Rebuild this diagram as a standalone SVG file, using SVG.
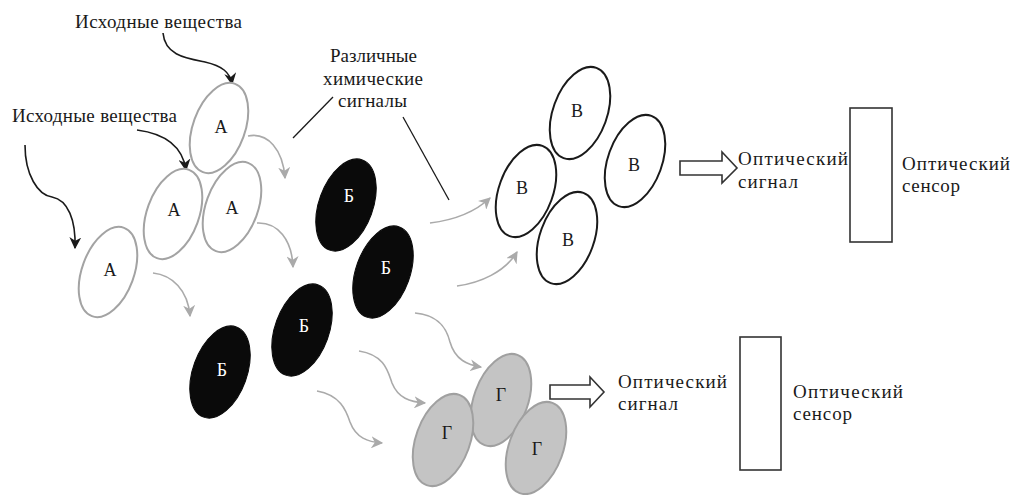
<svg xmlns="http://www.w3.org/2000/svg" width="1013" height="495" viewBox="0 0 1013 495">
<style>
text{font-family:"Liberation Serif","Times New Roman",serif;fill:#1a1a1a}
.t{font-size:19px}
.lbl{font-size:18px;text-anchor:middle}
.a{fill:#fff;stroke:#a3a3a3;stroke-width:2}
.b{fill:#0a0a0a;stroke:#0a0a0a;stroke-width:1}
.v{fill:#fff;stroke:#1a1a1a;stroke-width:2}
.g{fill:#c4c4c4;stroke:#a0a0a0;stroke-width:2}
.wl{fill:#fff}
.ca{fill:none;stroke:#1a1a1a;stroke-width:1.6;marker-end:url(#mk)}
.cg{fill:none;stroke:#aaaaaa;stroke-width:1.6;marker-end:url(#mg)}
.pl{fill:none;stroke:#1a1a1a;stroke-width:1.3}
.box{fill:#fff;stroke:#333;stroke-width:1.6}
</style>
<defs>
<marker id="mk" viewBox="0 0 10 10" refX="9" refY="5" markerWidth="12" markerHeight="12" markerUnits="userSpaceOnUse" orient="auto"><path d="M0,0 L10,5 L0,10 L3,5 Z" fill="#1a1a1a"/></marker>
<marker id="mg" viewBox="0 0 10 10" refX="9" refY="5" markerWidth="12" markerHeight="12" markerUnits="userSpaceOnUse" orient="auto"><path d="M0,0 L10,5 L0,10 L3,5 Z" fill="#aaaaaa"/></marker>
</defs>
<rect width="1013" height="495" fill="#fff"/>

<g id="labels">
<text class="t" x="75" y="28" textLength="167" lengthAdjust="spacing">Исходные вещества</text>
<text class="t" x="12" y="122" textLength="165" lengthAdjust="spacing">Исходные вещества</text>
<text class="t" x="330" y="62" textLength="87" lengthAdjust="spacing">Различные</text>
<text class="t" x="323" y="85" textLength="100" lengthAdjust="spacing">химические</text>
<text class="t" x="338" y="107" textLength="69" lengthAdjust="spacing">сигналы</text>
</g>

<g id="connectors">
<path class="ca" d="M163,33 C165,55 185,58 205,62 C222,66 230,72 232,84"/>
<path class="ca" d="M137,130 C160,133 182,142 186,170"/>
<path class="ca" d="M25,145 C25,175 38,195 52,197 C68,200 76,220 75,248"/>
<path class="cg" d="M248,136 C268,132 283,150 285,178"/>
<path class="cg" d="M257,223 C278,222 292,240 293,267"/>
<path class="cg" d="M153,273 C172,275 188,290 190,316"/>
<path class="cg" d="M430,223 C455,220 475,212 490,198"/>
<path class="cg" d="M457,286 C480,283 505,272 517,252"/>
<path class="cg" d="M415,313 C440,315 447,330 450,342 C455,360 468,365 481,367"/>
<path class="cg" d="M359,351 C385,355 388,372 392,383 C398,398 410,402 425,403"/>
<path class="cg" d="M317,391 C340,395 346,410 350,422 C356,438 368,442 382,443"/>
<line class="pl" x1="333" y1="97" x2="293" y2="138"/>
<line class="pl" x1="403" y1="117" x2="449" y2="200"/>
<path class="box" d="M680,161 H722 V152 L737,168 L722,183 V175 H680 Z"/>
<path class="box" d="M550,385 H590 V377 L604,392 L590,407 V399 H550 Z"/>
</g>

<g id="node-a1"><ellipse class="a" cx="219" cy="128" rx="26" ry="47" transform="rotate(20 219 128)"/><text class="lbl" x="221" y="133">А</text></g>
<g id="node-a2"><ellipse class="a" cx="173" cy="214" rx="26" ry="47" transform="rotate(20 173 214)"/><text class="lbl" x="174" y="216">А</text></g>
<g id="node-a3"><ellipse class="a" cx="232" cy="207" rx="26" ry="47" transform="rotate(20 232 207)"/><text class="lbl" x="232" y="214">А</text></g>
<g id="node-a4"><ellipse class="a" cx="108" cy="272" rx="26" ry="47" transform="rotate(20 108 272)"/><text class="lbl" x="110" y="276">А</text></g>

<g id="node-b1"><ellipse class="b" cx="346" cy="205" rx="27" ry="48" transform="rotate(20 346 205)"/><text class="lbl wl" x="349" y="202">Б</text></g>
<g id="node-b2"><ellipse class="b" cx="383" cy="272" rx="27" ry="48" transform="rotate(20 383 272)"/><text class="lbl wl" x="386" y="274">Б</text></g>
<g id="node-b3"><ellipse class="b" cx="302" cy="330" rx="27" ry="48" transform="rotate(20 302 330)"/><text class="lbl wl" x="304" y="332">Б</text></g>
<g id="node-b4"><ellipse class="b" cx="220" cy="372" rx="27" ry="48" transform="rotate(20 220 372)"/><text class="lbl wl" x="222" y="376">Б</text></g>

<g id="node-v1"><ellipse class="v" cx="580" cy="113" rx="27" ry="48" transform="rotate(20 580 113)"/><text class="lbl" x="577" y="117">В</text></g>
<g id="node-v2"><ellipse class="v" cx="635" cy="161" rx="27" ry="48" transform="rotate(20 635 161)"/><text class="lbl" x="634" y="171">В</text></g>
<g id="node-v3"><ellipse class="v" cx="526" cy="191" rx="27" ry="48" transform="rotate(20 526 191)"/><text class="lbl" x="522" y="194">В</text></g>
<g id="node-v4"><ellipse class="v" cx="567" cy="238" rx="27" ry="48" transform="rotate(20 567 238)"/><text class="lbl" x="568" y="246">В</text></g>

<g id="node-g1"><ellipse class="g" cx="501" cy="400" rx="27" ry="48" transform="rotate(20 501 400)"/><text class="lbl" x="501" y="401">Г</text></g>
<g id="node-g2"><ellipse class="g" cx="443" cy="440" rx="27" ry="48" transform="rotate(20 443 440)"/><text class="lbl" x="447" y="439">Г</text></g>
<g id="node-g3"><ellipse class="g" cx="536" cy="448" rx="27" ry="48" transform="rotate(20 536 448)"/><text class="lbl" x="537" y="455">Г</text></g>

<g id="signal-top"><text class="t" x="738" y="165" textLength="110" lengthAdjust="spacing">Оптический</text><text class="t" x="738" y="188" textLength="60" lengthAdjust="spacing">сигнал</text></g>
<g id="sensor-top"><rect class="box" x="850" y="108" width="42" height="134"/><text class="t" x="902" y="170" textLength="108" lengthAdjust="spacing">Оптический</text><text class="t" x="902" y="192" textLength="58" lengthAdjust="spacing">сенсор</text></g>
<g id="signal-bottom"><text class="t" x="618" y="388" textLength="109" lengthAdjust="spacing">Оптический</text><text class="t" x="618" y="410" textLength="60" lengthAdjust="spacing">сигнал</text></g>
<g id="sensor-bottom"><rect class="box" x="740" y="337" width="41" height="133"/><text class="t" x="793" y="398" textLength="110" lengthAdjust="spacing">Оптический</text><text class="t" x="793" y="420" textLength="59" lengthAdjust="spacing">сенсор</text></g>
</svg>
